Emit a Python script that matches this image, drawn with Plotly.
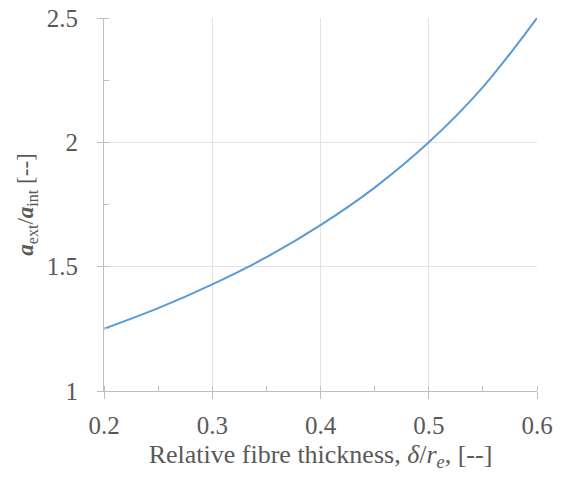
import plotly.graph_objects as go

thickness = [0.20, 0.25, 0.30, 0.35, 0.40, 0.45, 0.50, 0.55, 0.60]
ratio = [1.25, 1.333, 1.429, 1.538, 1.667, 1.818, 2.0, 2.222, 2.5]

x_ticks = [0.2, 0.3, 0.4, 0.5, 0.6]
y_ticks = [1, 1.5, 2, 2.5]

font = "Liberation Serif"
tcol = "#595959"
axcol = "#BFBFBF"
gridcol = "#E3E3E3"

fig = go.Figure()
fig.add_trace(go.Scatter(x=thickness, y=ratio, mode="lines",
                         line=dict(color="#5B9BD5", width=2, shape="spline"),
                         showlegend=False))

fig.update_layout(
    width=563, height=477,
    margin=dict(l=104, r=26, t=18, b=86, autoexpand=False),
    paper_bgcolor="white", plot_bgcolor="white",
    font=dict(family=font, size=25, color=tcol),
    xaxis=dict(
        range=[0.2, 0.6], tickvals=x_ticks, ticktext=["0.2", "0.3", "0.4", "0.5", "0.6"],
        tickfont=dict(family=font, size=25, color=tcol),
        showgrid=True, gridcolor=gridcol, gridwidth=1,
        showline=True, linecolor=axcol, linewidth=1,
        ticks="outside", ticklen=7, tickcolor=axcol,
        minor=dict(dtick=0.05, tick0=0.2, ticks="inside", ticklen=5, tickcolor=axcol, showgrid=False),
        zeroline=False, automargin=False,
        ticklabelstandoff=5,
        title=dict(text="Relative fibre thickness, <i>δ</i>/<i>r<sub>e</sub></i>, [--]",
                   font=dict(family=font, size=26, color=tcol), standoff=6),
    ),
    yaxis=dict(
        range=[1, 2.5], tickvals=y_ticks, ticktext=["1", "1.5", "2", "2.5"],
        tickfont=dict(family=font, size=25, color=tcol),
        showgrid=True, gridcolor=gridcol, gridwidth=1,
        showline=True, linecolor=axcol, linewidth=1,
        ticks="outside", ticklen=6, tickcolor=axcol,
        minor=dict(dtick=0.25, tick0=1, ticks="inside", ticklen=5, tickcolor=axcol, showgrid=False),
        zeroline=False, automargin=False,
        ticklabelstandoff=14,
        title=dict(text="<b><i>a</i></b><sub>ext</sub>/<b><i>a</i></b><sub>int</sub> [--]",
                   font=dict(family=font, size=23, color=tcol), standoff=6),
    ),
)

fig.write_html("out.html", config={"displayModeBar": False},
               post_script="document.body.style.margin='0';")
